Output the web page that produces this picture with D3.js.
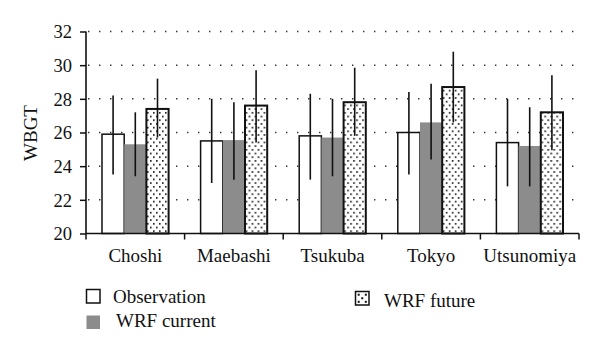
<!DOCTYPE html>
<html>
<head>
<meta charset="utf-8">
<script src="https://cdn.jsdelivr.net/npm/d3@7"></script>
<style>
  html, body { margin: 0; padding: 0; background: #fff; }
  svg { display: block; }
  text { font-family: "Liberation Serif", "Times New Roman", serif; fill: #111; }
</style>
</head>
<body>
<svg id="chart" width="600" height="356"></svg>
<script>
const categories = ["Choshi", "Maebashi", "Tsukuba", "Tokyo", "Utsunomiya"];
const seriesNames = ["Observation", "WRF current", "WRF future"];

const observation = [25.9, 25.5, 25.8, 26.0, 25.4];
const obsLow      = [23.5, 23.0, 23.2, 23.5, 22.8];
const obsHigh     = [28.2, 28.0, 28.3, 28.4, 28.0];

const wrfCurrent  = [25.3, 25.55, 25.7, 26.6, 25.2];
const curLow      = [23.4, 23.2, 23.4, 24.4, 22.8];
const curHigh     = [27.2, 27.8, 28.0, 28.9, 27.5];

const wrfFuture   = [27.4, 27.6, 27.8, 28.7, 27.2];
const futLow      = [25.7, 25.4, 25.8, 26.6, 24.95];
const futHigh     = [29.2, 29.7, 29.85, 30.8, 29.4];

const yTicks = [20, 22, 24, 26, 28, 30, 32];
const yLabel = "WBGT";

(function () {
const seriesValues = [observation, wrfCurrent, wrfFuture];
const seriesLow = [obsLow, curLow, futLow];
const seriesHigh = [obsHigh, curHigh, futHigh];

const svg = d3.select("#chart");
svg.append("rect").attr("width", 600).attr("height", 356).attr("fill", "#fff");

const defs = svg.append("defs");
const pat = defs.append("pattern")
  .attr("id", "dots").attr("patternUnits", "userSpaceOnUse")
  .attr("width", 6).attr("height", 7.4);
pat.append("rect").attr("width", 6).attr("height", 7.4).attr("fill", "#fff");
pat.append("rect").attr("x", 1).attr("y", 1).attr("width", 1.6).attr("height", 1.6).attr("fill", "#111");
pat.append("rect").attr("x", 4).attr("y", 4.7).attr("width", 1.6).attr("height", 1.6).attr("fill", "#111");

const pLeft = 86, pRight = 579, pTop = 31.5, pBottom = 233.5;

const y = d3.scaleLinear().domain([20, 32]).range([pBottom, pTop]);
const x0 = d3.scaleBand().domain(categories).range([pLeft, pRight]).padding(0);
const bw = x0.bandwidth();
const x1 = d3.scaleBand().domain(seriesNames).range([16, bw - 16]).padding(0);

// grid (dotted)
svg.append("g").selectAll("line")
  .data(yTicks.filter(t => t > 20))
  .join("line")
  .attr("x1", pLeft + 2).attr("x2", pRight - 3)
  .attr("y1", d => y(d)).attr("y2", d => y(d))
  .attr("stroke", "#333").attr("stroke-width", 1.5)
  .attr("stroke-dasharray", "1.4,9.6");

const fills = ["#fff", "#8c8c8c", "url(#dots)"];
const strokes = ["#111", "none", "#111"];
const sw = [1.5, 0, 2];

const groups = svg.append("g").selectAll("g")
  .data(categories)
  .join("g")
  .attr("transform", d => `translate(${x0(d)},0)`);

seriesNames.forEach((s, si) => {
  groups.append("rect")
    .attr("x", x1(s))
    .attr("width", x1.bandwidth())
    .attr("y", (d, i) => y(seriesValues[si][i]))
    .attr("height", (d, i) => y(20) - y(seriesValues[si][i]))
    .attr("fill", fills[si])
    .attr("stroke", strokes[si])
    .attr("stroke-width", sw[si]);
});
seriesNames.forEach((s, si) => {
  groups.append("line")
    .attr("x1", x1(s) + x1.bandwidth() / 2)
    .attr("x2", x1(s) + x1.bandwidth() / 2)
    .attr("y1", (d, i) => y(seriesLow[si][i]))
    .attr("y2", (d, i) => y(seriesHigh[si][i]))
    .attr("stroke", "#111").attr("stroke-width", 1.6);
});

// y axis
const yAxis = svg.append("g").attr("transform", `translate(${pLeft},0)`)
  .call(d3.axisLeft(y).tickValues(yTicks).tickSize(6).tickPadding(8).tickFormat(d3.format("d")));
yAxis.select(".domain").attr("stroke", "#111").attr("stroke-width", 1.6).attr("d", `M0,${pTop}V${pBottom}`);
yAxis.selectAll(".tick line").attr("stroke", "#111").attr("stroke-width", 1.5);
yAxis.selectAll(".tick text").attr("font-size", 18.5).attr("font-family", "Liberation Serif").attr("fill", "#111").attr("dy", "0.34em");

// x axis
const xAxis = svg.append("g").attr("transform", `translate(0,${pBottom})`)
  .call(d3.axisBottom(x0).tickSize(0).tickPadding(14));
xAxis.select(".domain").attr("stroke", "#111").attr("stroke-width", 1.6).attr("d", `M${pLeft},0H${pRight}`);
xAxis.selectAll(".tick text").attr("font-size", 19).attr("font-family", "Liberation Serif").attr("fill", "#111").attr("dy", "0.75em");
// band boundary ticks
const bounds = categories.map(c => x0(c)).concat([x0(categories[categories.length - 1]) + bw]);
svg.append("g").selectAll("line").data(bounds).join("line")
  .attr("x1", d => d).attr("x2", d => d)
  .attr("y1", pBottom).attr("y2", pBottom + 6)
  .attr("stroke", "#111").attr("stroke-width", 1.5);

// y label
svg.append("text")
  .attr("transform", `translate(37,133) rotate(-90)`)
  .attr("text-anchor", "middle")
  .attr("font-size", 19)
  .text(yLabel);

// legend
const legendItems = [
  { name: seriesNames[0], sx: 86.5, sy: 289.5, tx: 113, ty: 303, fill: fills[0], stroke: "#111", sw: 1.5 },
  { name: seriesNames[1], sx: 86.5, sy: 315.5, tx: 116, ty: 327, fill: fills[1], stroke: "none", sw: 0 },
  { name: seriesNames[2], sx: 355.5, sy: 291.5, tx: 384, ty: 306.5, fill: null, stroke: "#111", sw: 1.5 }
];
const lg = svg.append("g");
legendItems.forEach(it => {
  lg.append("rect").attr("x", it.sx).attr("y", it.sy).attr("width", 13.5).attr("height", 13.5)
    .attr("fill", it.fill || "#fff").attr("stroke", it.stroke).attr("stroke-width", it.sw);
  if (!it.fill) {
    [[3.2, 3.2], [10.3, 3.2], [6.75, 6.75], [3.2, 10.3], [10.3, 10.3]].forEach(p => {
      lg.append("rect").attr("x", it.sx + p[0] - 1).attr("y", it.sy + p[1] - 1)
        .attr("width", 2).attr("height", 2).attr("fill", "#111");
    });
  }
  lg.append("text").attr("x", it.tx).attr("y", it.ty).attr("font-size", 19).text(it.name);
});
})();
</script>
</body>
</html>
